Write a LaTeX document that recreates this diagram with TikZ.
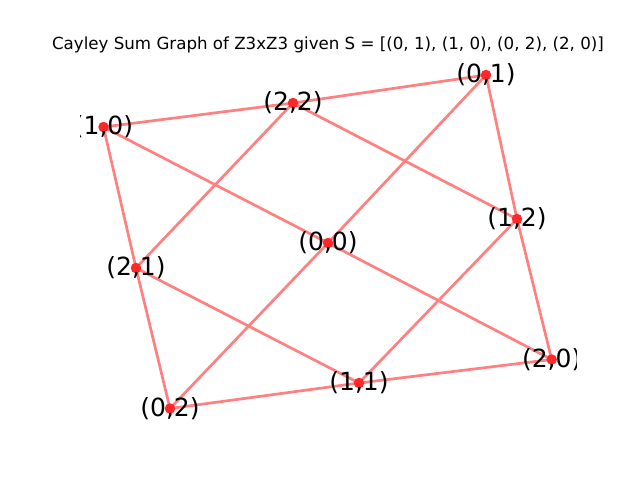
\documentclass[tikz,border=0pt]{standalone}
\usepackage{fontspec}
\setmainfont{DejaVu Sans}
\begin{document}
\begin{tikzpicture}[x=1pt,y=-1pt,
  edge/.style={draw={rgb,255:red,255;green,128;blue,128},line width=2.7pt},
  vert/.style={circle,fill={rgb,255:red,255;green,40;blue,40},inner sep=0pt,minimum size=10.5pt},
  lab/.style={font=\fontsize{25}{25}\selectfont,inner sep=0pt,text=black}]
\useasboundingbox (0,0) rectangle (640,480);
\node[font=\fontsize{16.67}{17}\selectfont,anchor=base] (title) at (328,49) {Cayley Sum Graph of Z3xZ3 given S = [(0, 1), (1, 0), (0, 2), (2, 0)]};
\coordinate (p01) at (486,75);
\coordinate (p22) at (293,103);
\coordinate (p10) at (103.5,127);
\coordinate (p12) at (517,219);
\coordinate (p00) at (328,243);
\coordinate (p21) at (136,268);
\coordinate (p20) at (551.7,359.5);
\coordinate (p11) at (359,383);
\coordinate (p02) at (170,408.5);
% edges
\foreach \a/\b in {p10/p22,p22/p01,p01/p12,p12/p20,p20/p11,p11/p02,p02/p21,p21/p10,
  p22/p12,p10/p00,p00/p20,p21/p11,p01/p00,p00/p02,p22/p21,p12/p11}
  \draw[edge] (\a) -- (\b);
% vertices
\foreach \p in {p01,p22,p10,p12,p00,p21,p20,p11,p02}
  \node[vert] (v\p) at (\p) {};
% labels
\begin{scope}
\clip (80,57.6) rectangle (576,427.2);
\node[lab] (l01) at (p01) {(0,1)};
\node[lab] (l22) at (p22) {(2,2)};
\node[lab] (l10) at (p10) {(1,0)};
\node[lab] (l12) at (p12) {(1,2)};
\node[lab] (l00) at (p00) {(0,0)};
\node[lab] (l21) at (p21) {(2,1)};
\node[lab] (l20) at (p20) {(2,0)};
\node[lab] (l11) at (p11) {(1,1)};
\node[lab] (l02) at (p02) {(0,2)};
\end{scope}
\end{tikzpicture}
\end{document}
